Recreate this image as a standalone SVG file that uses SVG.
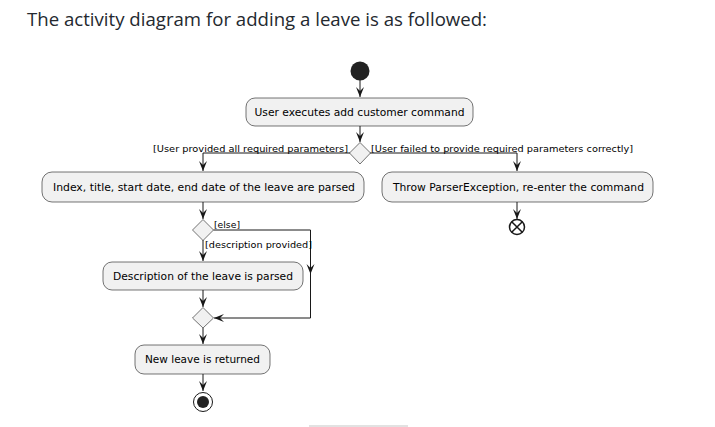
<svg xmlns="http://www.w3.org/2000/svg" width="715" height="427" viewBox="0 0 715 427">
<style>
.title{font-family:"Open Sans","Noto Sans",sans-serif;font-size:19px;fill:#24292f}
.box{fill:#F1F1F1;stroke:#181818;stroke-width:0.6}
.dia{fill:#F1F1F1;stroke:#181818;stroke-width:0.6}
.t{font-family:"DejaVu Sans",sans-serif;font-size:11px;fill:#000;text-anchor:middle;dominant-baseline:central}
.lbl{font-family:"DejaVu Sans",sans-serif;font-size:9.5px;fill:#000}
.ln{fill:none;stroke:#181818;stroke-width:1}
</style>
<defs>
<marker id="ah" viewBox="-11 -5 12 10" refX="0" refY="0" markerWidth="12" markerHeight="10" markerUnits="userSpaceOnUse" orient="auto">
<path d="M0,0 L-10,-4 L-6,0 L-10,4 Z" fill="#181818"/>
</marker>
</defs>
<rect width="715" height="427" fill="#fff"/>
<text class="title" x="27" y="26" textLength="460" lengthAdjust="spacingAndGlyphs">The activity diagram for adding a leave is as followed:</text>

<g id="connectors">
<path class="ln" d="M360,80 L360,97" marker-end="url(#ah)"/>
<path class="ln" d="M360,126 L360,142" marker-end="url(#ah)"/>
<path class="ln" d="M350,153 L203,153 L203,171" marker-end="url(#ah)"/>
<path class="ln" d="M370,153 L517,153 L517,171" marker-end="url(#ah)"/>
<path class="ln" d="M517,202 L517,219" marker-end="url(#ah)"/>
<path class="ln" d="M203,202 L203,219" marker-end="url(#ah)"/>
<path class="ln" d="M203,240 L203,261" marker-end="url(#ah)"/>
<path class="ln" d="M213.5,230 L310.5,230 L310.5,318 L214,318" marker-end="url(#ah)"/>
<path class="ln" d="M310.5,230 L310.5,274" marker-end="url(#ah)"/>
<path class="ln" d="M203,290 L203,307" marker-end="url(#ah)"/>
<path class="ln" d="M203,328 L203,344" marker-end="url(#ah)"/>
<path class="ln" d="M203,374 L203,391" marker-end="url(#ah)"/>
<text class="lbl" x="153" y="152" textLength="195" lengthAdjust="spacingAndGlyphs">[User provided all required parameters]</text>
<text class="lbl" x="371" y="152" textLength="262" lengthAdjust="spacingAndGlyphs">[User failed to provide required parameters correctly]</text>
<text class="lbl" x="214" y="228" textLength="26" lengthAdjust="spacingAndGlyphs">[else]</text>
<text class="lbl" x="205" y="248" textLength="107" lengthAdjust="spacingAndGlyphs">[description provided]</text>
</g>

<g id="start"><circle cx="360" cy="71" r="9.5" fill="#222"/></g>
<g id="n1"><rect class="box" x="246" y="98" width="227" height="28" rx="9"/><text class="t" x="359.5" y="112" textLength="210" lengthAdjust="spacingAndGlyphs">User executes add customer command</text></g>
<g id="d1"><path class="dia" d="M360,142.5 L370.5,153 L360,164 L349.5,153 Z"/></g>
<g id="n2"><rect class="box" x="42" y="172" width="322" height="30" rx="10"/><text class="t" x="204" y="187.5" textLength="302" lengthAdjust="spacingAndGlyphs">Index, title, start date, end date of the leave are parsed</text></g>
<g id="n3"><rect class="box" x="382" y="172" width="271" height="30" rx="10"/><text class="t" x="518.5" y="187.5" textLength="251" lengthAdjust="spacingAndGlyphs">Throw ParserException, re-enter the command</text></g>
<g id="stop1"><circle cx="517" cy="227" r="7.5" fill="none" stroke="#181818" stroke-width="1.5"/><path d="M511.7,221.7 L522.3,232.3 M522.3,221.7 L511.7,232.3" stroke="#181818" stroke-width="1.5"/></g>
<g id="d2"><path class="dia" d="M203,219.5 L213.5,230 L203,240.5 L192.5,230 Z"/></g>
<g id="n4"><rect class="box" x="103" y="262" width="200" height="28" rx="9"/><text class="t" x="203" y="276" textLength="180" lengthAdjust="spacingAndGlyphs">Description of the leave is parsed</text></g>
<g id="d3"><path class="dia" d="M203,307.5 L213.5,318 L203,328 L192.5,318 Z"/></g>
<g id="n5"><rect class="box" x="135" y="345" width="135" height="29" rx="9"/><text class="t" x="202.5" y="359.5" textLength="115" lengthAdjust="spacingAndGlyphs">New leave is returned</text></g>
<g id="end"><circle cx="203" cy="402" r="9.5" fill="none" stroke="#181818" stroke-width="1"/><circle cx="203" cy="402" r="6" fill="#222"/></g>
<line x1="309" y1="426" x2="408" y2="426" stroke="#d9d9d9" stroke-width="1.5"/>
</svg>
